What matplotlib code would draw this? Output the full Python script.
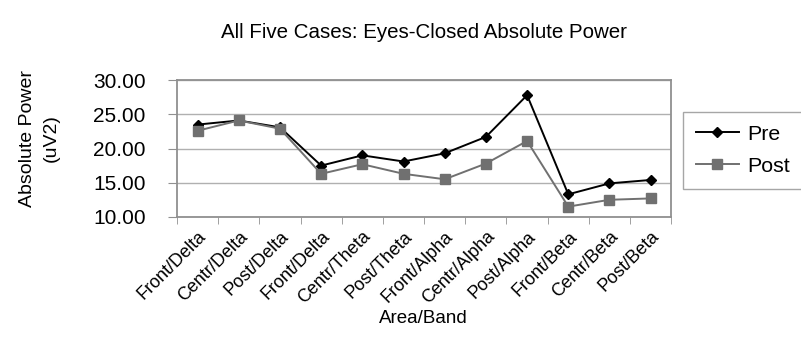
import numpy as np
import matplotlib
matplotlib.use('Agg')
import matplotlib.pyplot as plt

plt.rcParams['font.family'] = ['Liberation Sans', 'DejaVu Sans']

# data
categories = ['Front/Delta', 'Centr/Delta', 'Post/Delta', 'Front/Delta', 'Centr/Theta', 'Post/Theta',
              'Front/Alpha', 'Centr/Alpha', 'Post/Alpha', 'Front/Beta', 'Centr/Beta', 'Post/Beta']
pre = [23.5, 24.1, 23.1, 17.5, 19.0, 18.1, 19.3, 21.7, 27.8, 13.3, 14.9, 15.4]
post = [22.6, 24.1, 22.9, 16.3, 17.7, 16.3, 15.5, 17.8, 21.1, 11.5, 12.5, 12.7]
yticks = [10, 15, 20, 25, 30]

x = np.arange(len(categories))

fig = plt.figure(figsize=(8.01, 3.47), dpi=100)
ax = fig.add_axes([0.221, 0.375, 0.617, 0.394])

ax.plot(x, pre, color='black', marker='D', markersize=5.5, linewidth=1.4, label='Pre')
ax.plot(x, post, color='#707070', marker='s', markersize=6.5, linewidth=1.4, label='Post')

ax.set_xlim(-0.5, len(categories) - 0.5)
ax.set_ylim(10, 30)
ax.set_yticks(yticks)
ax.set_yticklabels(['%.2f' % v for v in yticks], fontsize=15)
ax.yaxis.grid(True, color='#b0b0b0', linewidth=1)
ax.set_axisbelow(True)
ax.tick_params(axis='y', length=6.5, color='#909090', pad=16)

ax.set_xticks(x)
ax.set_xticklabels(categories, rotation=45, ha='right', rotation_mode='anchor', fontsize=13)
ax.tick_params(axis='x', which='major', length=0, pad=8)
ax.set_xticks(np.arange(-0.5, len(categories)), minor=True)
ax.tick_params(axis='x', which='minor', length=5, color='#909090')

for s in ax.spines.values():
    s.set_color('#909090')
    s.set_linewidth(1.3)

fig.text(0.529, 0.905, 'All Five Cases: Eyes-Closed Absolute Power', ha='center', va='center', fontsize=14.8)
fig.text(0.049, 0.602, 'Absolute Power\n(uV2)', rotation=90, ha='center', va='center', fontsize=14,
         linespacing=1.55)
fig.text(0.529, 0.083, 'Area/Band', ha='center', va='center', fontsize=13.5)

leg = fig.legend(loc='upper left', bbox_to_anchor=(0.853, 0.677), fontsize=15.4, frameon=True,
                 fancybox=False, edgecolor='#909090', handlelength=2.0, borderpad=0.6,
                 labelspacing=0.6, handletextpad=0.4, borderaxespad=0)
leg.get_frame().set_linewidth(1)

fig.savefig('out.png', dpi=100)
plt.close()
